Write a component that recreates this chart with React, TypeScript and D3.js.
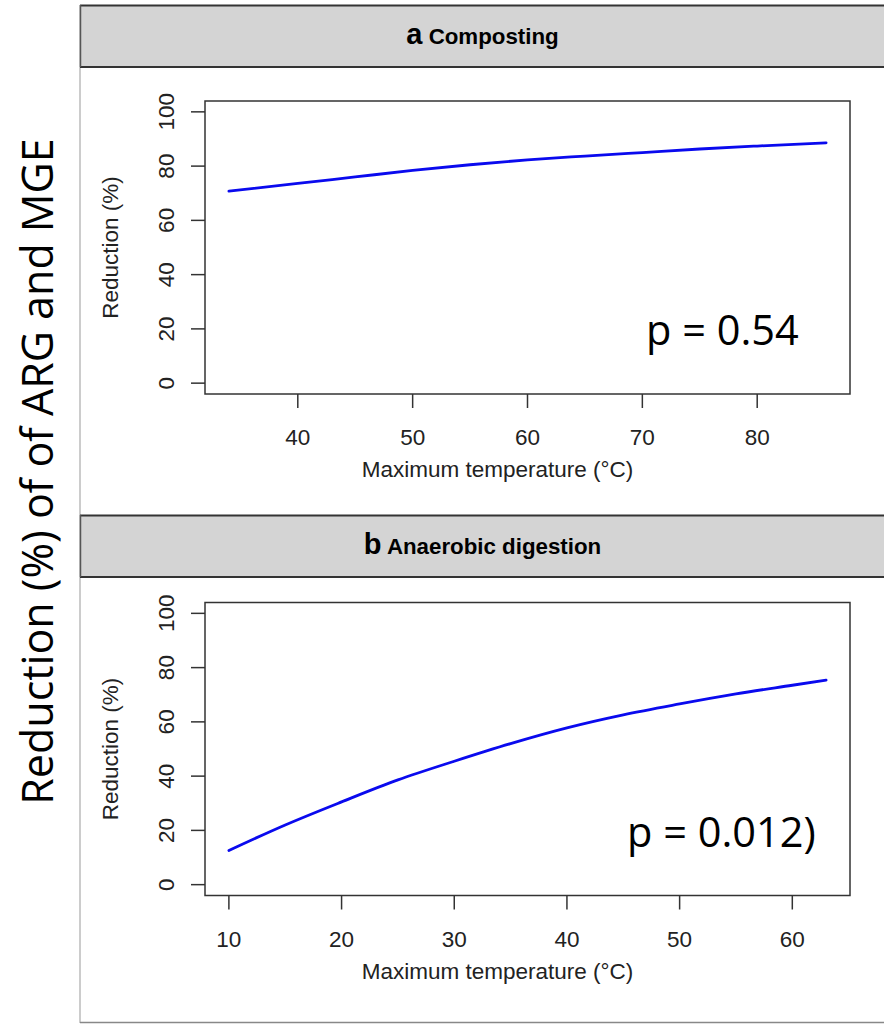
import React from "react";
import * as d3 from "d3";

const compostTemp = [34, 40, 45, 50, 55, 60, 65, 70, 75, 80, 86];
const compostReduction = [70.8, 73.6, 76.0, 78.4, 80.5, 82.3, 83.7, 85.0, 86.3, 87.4, 88.6];
const adTemp = [10, 15, 20, 25, 30, 35, 40, 45, 50, 55, 60, 63];
const adReduction = [12.6, 22.0, 30.5, 38.6, 45.5, 52.0, 57.8, 62.6, 66.6, 70.3, 73.5, 75.4];
const yTicks = [0, 20, 40, 60, 80, 100];
const compostXTicks = [40, 50, 60, 70, 80];
const adXTicks = [10, 20, 30, 40, 50, 60];
const panelLetters = ["a", "b"];
const panelTitles = ["Composting", "Anaerobic digestion"];
const pValues = ["p = 0.54", "p = 0.012)"];
const xTitle = "Maximum temperature (°C)";
const yTitle = "Reduction (%)";
const outerTitle = "Reduction (%) of of ARG and MGE";

const AX = "Liberation Sans, Arial, sans-serif";
const PF = "Open Sans, sans-serif";
const FS = 22.5;

function Panel({ dy, hy, xs, ys, xTicks, letter, title, p, pX }: any) {
  const ext = (d3.max(xs) as number) - (d3.min(xs) as number);
  const x = d3
    .scaleLinear()
    .domain([(d3.min(xs) as number) - ext * 0.04, (d3.max(xs) as number) + ext * 0.04])
    .range([205, 850]);
  const y = d3.scaleLinear().domain([-4, 104]).range([394 + dy, 101 + dy]);
  const line = d3
    .line<number>()
    .x((_, i) => x(xs[i]))
    .y((d) => y(d))
    .curve(d3.curveMonotoneX);
  const axisColor = "#333";
  return (
    <g>
      {/* header strip */}
      <rect x={80} y={5 + hy} width={810} height={62} fill="#d4d4d4" />
      <line x1={80} x2={884} y1={5.5 + hy} y2={5.5 + hy} stroke="#333" strokeWidth={2} />
      <line x1={80} x2={884} y1={67 + hy} y2={67 + hy} stroke="#333" strokeWidth={2} />
      <line x1={80.5} x2={80.5} y1={5 + hy} y2={67 + hy} stroke="#555" strokeWidth={1.5} />
      <text x={482.5} y={44 + hy} textAnchor="middle" fontFamily={AX} fontWeight="bold" fill="#000">
        <tspan fontSize={29}>{letter}</tspan>
        <tspan fontSize={22.3}> {title}</tspan>
      </text>
      {/* plot box */}
      <rect x={205} y={101 + dy} width={645} height={293} fill="none" stroke={axisColor} strokeWidth={1.5} />
      {yTicks.map((t: number) => (
        <g key={"y" + t}>
          <line x1={191} x2={205} y1={y(t)} y2={y(t)} stroke={axisColor} strokeWidth={1.5} />
          <text
            transform={`translate(174,${y(t)}) rotate(-90)`}
            textAnchor="middle"
            fontFamily={AX}
            fontSize={FS}
            fill="#222"
          >
            {t}
          </text>
        </g>
      ))}
      {xTicks.map((t: number) => (
        <g key={"x" + t}>
          <line x1={x(t)} x2={x(t)} y1={394 + dy} y2={408 + dy} stroke={axisColor} strokeWidth={1.5} />
          <text x={x(t)} y={445 + dy} textAnchor="middle" fontFamily={AX} fontSize={FS} fill="#222">
            {t}
          </text>
        </g>
      ))}
      <text x={497.5} y={477 + dy} textAnchor="middle" fontFamily={AX} fontSize={FS} fill="#222">
        {xTitle}
      </text>
      <text
        transform={`translate(118,${(y(-4) + y(104)) / 2}) rotate(-90)`}
        textAnchor="middle"
        fontFamily={AX}
        fontSize={FS}
        fill="#222"
      >
        {yTitle}
      </text>
      <path d={line(ys) || ""} fill="none" stroke="#0a0aee" strokeWidth={2.8} strokeLinecap="round" />
      <text x={pX} y={345 + dy} fontFamily={PF} fontSize={41.5} fill="#000">
        {p}
      </text>
    </g>
  );
}

export default function App() {
  return (
    <div style={{ position: "absolute", left: 0, top: 0 }}>
      <svg width={884} height={1024} style={{ display: "block", background: "#fff" }}>
        <rect x={0} y={0} width={884} height={1024} fill="#fff" />
        <line x1={80} x2={80} y1={5} y2={1023} stroke="#999" strokeWidth={1} />
        <line x1={80} x2={884} y1={1022.5} y2={1022.5} stroke="#888" strokeWidth={1.5} />
        <Panel
          dy={0}
          hy={0}
          xs={compostTemp}
          ys={compostReduction}
          xTicks={compostXTicks}
          letter={panelLetters[0]}
          title={panelTitles[0]}
          p={pValues[0]}
          pX={646}
        />
        <Panel
          dy={501.5}
          hy={510}
          xs={adTemp}
          ys={adReduction}
          xTicks={adXTicks}
          letter={panelLetters[1]}
          title={panelTitles[1]}
          p={pValues[1]}
          pX={627}
        />
        <text
          transform="translate(53,471.5) rotate(-90)"
          textAnchor="middle"
          fontFamily={PF}
          fontSize={43}
          fill="#000"
        >
          {outerTitle}
        </text>
      </svg>
    </div>
  );
}
